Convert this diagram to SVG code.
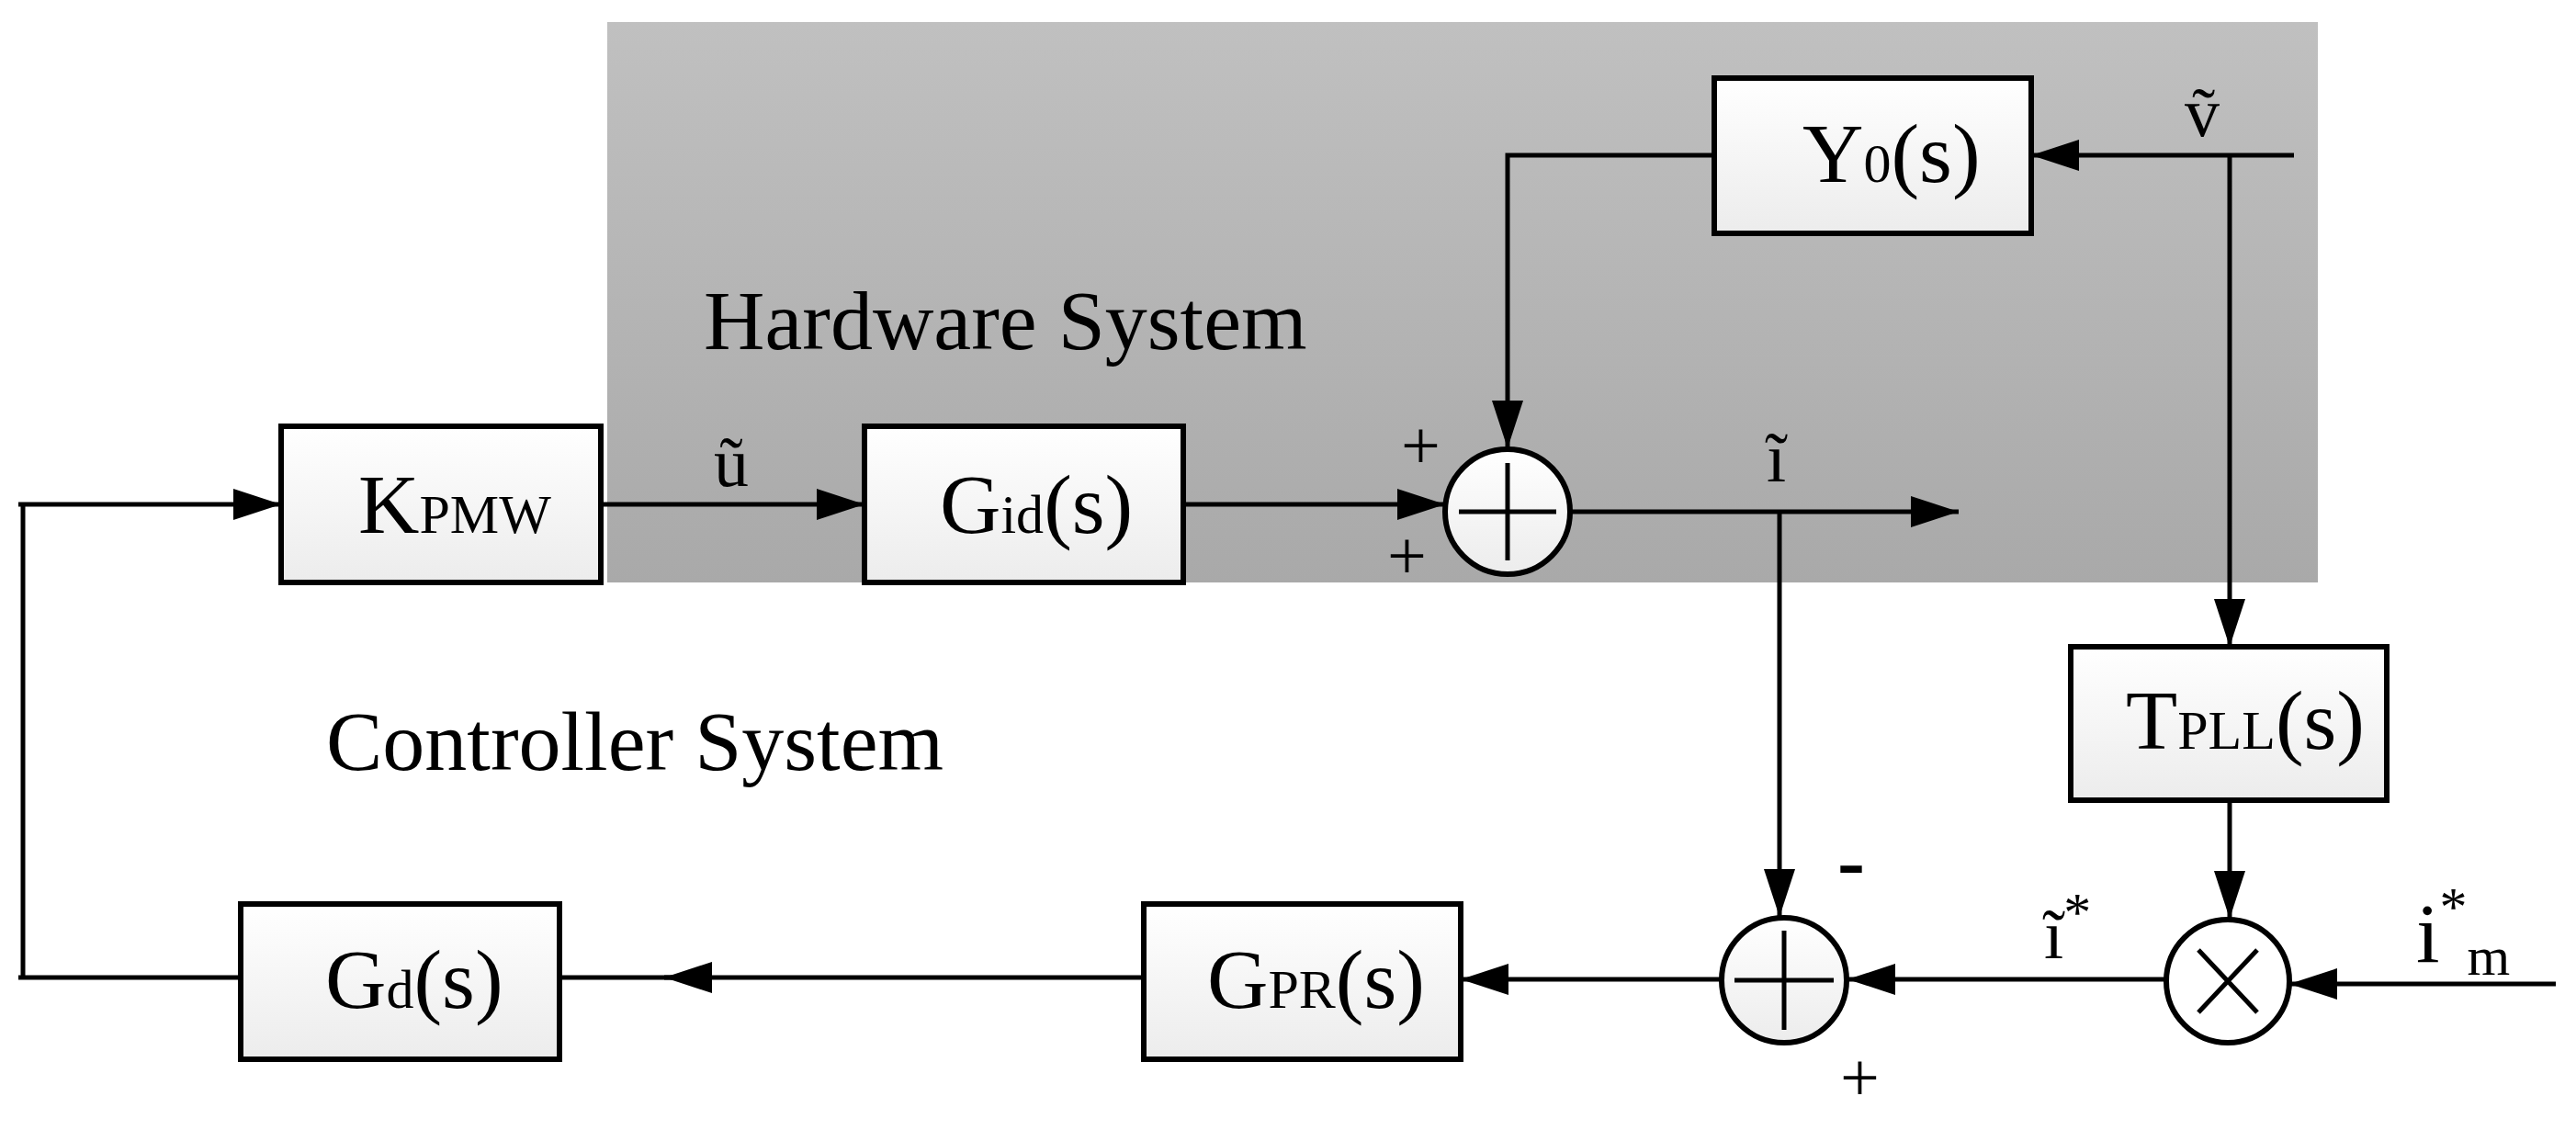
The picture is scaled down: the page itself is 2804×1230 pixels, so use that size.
<svg xmlns="http://www.w3.org/2000/svg" width="2804" height="1230" viewBox="0 0 2804 1230">
<style>
.b{fill:url(#bg);stroke:#000;stroke-width:6}
.l{fill:none;stroke:#000;stroke-width:5}
.t{font-family:"Liberation Serif",serif;font-size:92px;fill:#000}
.s{font-size:60px}
</style>
<defs>
<linearGradient id="bg" x1="0" y1="0" x2="0" y2="1"><stop offset="0" stop-color="#fff"/><stop offset="1" stop-color="#ececec"/></linearGradient>
<linearGradient id="hw" x1="0" y1="0" x2="0" y2="1"><stop offset="0" stop-color="#c0c0c0"/><stop offset="1" stop-color="#a9a9a9"/></linearGradient>
<marker id="A" viewBox="0 0 52 34" refX="52" refY="17" markerWidth="52" markerHeight="34" orient="auto" markerUnits="userSpaceOnUse"><path d="M0,0L52,17L0,34z"/></marker>
</defs>
<rect x="661" y="24" width="1862" height="610" fill="url(#hw)"/>
<text class="t" x="766" y="380" font-size="75">Hardware System</text>
<text class="t" x="355" y="838" font-size="75">Controller System</text>
<g id="connectors" class="l">
<path d="M20,549H306" marker-end="url(#A)"/>
<path d="M25,549V1064"/>
<path d="M20,1064H262"/>
<path d="M654,549H941" marker-end="url(#A)"/>
<path d="M1288,549H1573" marker-end="url(#A)"/>
<path d="M1866,169H1641V488" marker-end="url(#A)"/>
<path d="M2497,169H2211" marker-end="url(#A)"/>
<path d="M2427,169V704" marker-end="url(#A)"/>
<path d="M1709,557H2132" marker-end="url(#A)"/>
<path d="M1937,557V998" marker-end="url(#A)"/>
<path d="M2427,871V1000" marker-end="url(#A)"/>
<path d="M2782,1071H2492" marker-end="url(#A)"/>
<path d="M2358,1066H2011" marker-end="url(#A)"/>
<path d="M1873,1066H1590" marker-end="url(#A)"/>
<path d="M1245,1064H609"/>
<path d="M775,1064H723" marker-end="url(#A)"/>
</g>
<g id="kpmw"><rect class="b" x="306" y="464" width="348" height="170"/><text class="t" x="390" y="580">K<tspan class="s">PMW</tspan></text></g>
<g id="gid"><rect class="b" x="941" y="464" width="347" height="170"/><text class="t" x="1023" y="580">G<tspan class="s">id</tspan>(s)</text></g>
<g id="y0"><rect class="b" x="1866" y="85" width="345" height="169"/><text class="t" x="1962" y="198">Y<tspan class="s">0</tspan>(s)</text></g>
<g id="tpll"><rect class="b" x="2254" y="704" width="344" height="167"/><text class="t" x="2314" y="815">T<tspan class="s">PLL</tspan>(s)</text></g>
<g id="gd"><rect class="b" x="262" y="984" width="347" height="169"/><text class="t" x="354" y="1097">G<tspan class="s">d</tspan>(s)</text></g>
<g id="gpr"><rect class="b" x="1245" y="984" width="345" height="169"/><text class="t" x="1314" y="1097">G<tspan class="s">PR</tspan>(s)</text></g>
<g id="sum1"><circle class="b" cx="1641" cy="557" r="68"/><path class="l" d="M1588,557H1694M1641,504V610"/></g>
<g id="sum2"><circle class="b" cx="1942" cy="1067" r="68"/><path class="l" d="M1888,1067H1996M1942,1013V1121"/></g>
<g id="mult"><circle class="b" cx="2425" cy="1068" r="67" style="fill:#fff"/><path class="l" d="M2393,1034L2457,1102M2457,1034L2393,1102"/></g>
<g id="labels" class="t">
<text x="777" y="529" font-size="76">ũ</text>
<text x="2378" y="149" font-size="76">ṽ</text>
<text x="1923" y="524" font-size="76">ĩ</text>
<text x="1525" y="510" font-size="76">+</text>
<text x="1510" y="630" font-size="76">+</text>
<text x="2000" y="968" font-size="90" font-weight="bold">-</text>
<text x="2003" y="1198" font-size="76">+</text>
<text x="2225" y="1043" font-size="76">ĩ<tspan class="s" dy="-30">*</tspan></text>
<text x="2630" y="1047" font-size="92">i<tspan class="s" dy="-40">*</tspan><tspan class="s" dy="54">m</tspan></text>
</g>
</svg>
